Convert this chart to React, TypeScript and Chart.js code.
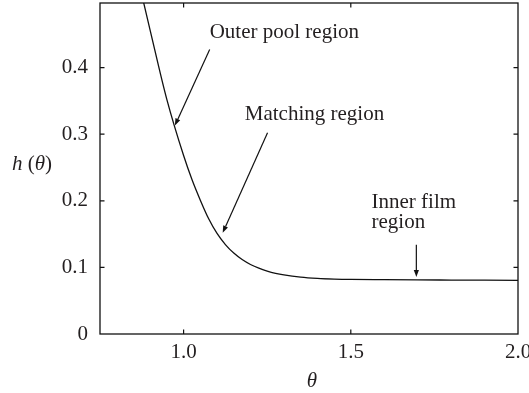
import React, { useEffect, useRef } from "react";
import { Chart, registerables } from "chart.js";

Chart.register(...registerables);

// Curve h(theta)
const thetaValues = [0.87, 0.9, 0.95, 1.0, 1.025, 1.05, 1.075, 1.1, 1.125, 1.15, 1.175, 1.2, 1.225, 1.25, 1.275, 1.3, 1.35, 1.4, 1.45, 1.5, 1.6, 1.7, 1.8, 1.9, 2.0];
const hValues = [0.52, 0.456, 0.352, 0.268, 0.232, 0.201, 0.173, 0.151, 0.1343, 0.1215, 0.1118, 0.1044, 0.0988, 0.0945, 0.0912, 0.0888, 0.0855, 0.0836, 0.0825, 0.0819, 0.0815, 0.0812, 0.081, 0.0808, 0.0806];

const xTickValues = [1.0, 1.5, 2.0];
const xTickLabels = ["1.0", "1.5", "2.0"];
const yTickValues = [0, 0.1, 0.2, 0.3, 0.4];
const yTickLabels = ["0", "0.1", "0.2", "0.3", "0.4"];

const xMin = 0.75;
const xMax = 2.0;
const yMin = 0;
const yMax = 0.497;

// Annotations in data coordinates
const annotationTexts = [["Outer pool region"], ["Matching region"], ["Inner film", "region"]];
const annotationTextPos = [[1.078, 0.4526], [1.183, 0.329], [1.562, 0.198]];
const arrowFrom = [[1.078, 0.427], [1.251, 0.302], [1.696, 0.134]];
const arrowTo = [[0.974, 0.313], [1.117, 0.152], [1.696, 0.0857]];

const SERIF = "'Liberation Serif', 'Times New Roman', Times, serif";
const FONT_SIZE = 21;
const TEXT_COLOR = "#231f20";

const framePlugin = {
  id: "frameAndAnnotations",
  afterDraw(chart: any) {
    const { ctx, chartArea } = chart;
    const xs = chart.scales.x;
    const ys = chart.scales.y;
    const { left, right, top, bottom } = chartArea;
    ctx.save();
    // frame
    ctx.strokeStyle = "#111";
    ctx.lineWidth = 1.3;
    ctx.strokeRect(left, top, right - left, bottom - top);
    // inward ticks
    const tl = 4.5;
    ctx.lineWidth = 1.2;
    ctx.beginPath();
    xTickValues.forEach((v) => {
      const px = xs.getPixelForValue(v);
      if (px <= left + 1 || px >= right - 1) return;
      ctx.moveTo(px, bottom);
      ctx.lineTo(px, bottom - tl);
      ctx.moveTo(px, top);
      ctx.lineTo(px, top + tl);
    });
    yTickValues.forEach((v) => {
      const py = ys.getPixelForValue(v);
      if (py >= bottom - 1 || py <= top + 1) return;
      ctx.moveTo(left, py);
      ctx.lineTo(left + tl, py);
      ctx.moveTo(right, py);
      ctx.lineTo(right - tl, py);
    });
    ctx.stroke();

    // annotations
    ctx.fillStyle = TEXT_COLOR;
    ctx.font = `${FONT_SIZE}px ${SERIF}`;
    ctx.textAlign = "left";
    ctx.textBaseline = "middle";
    annotationTexts.forEach((lines, i) => {
      const tx = xs.getPixelForValue(annotationTextPos[i][0]);
      const ty = ys.getPixelForValue(annotationTextPos[i][1]);
      lines.forEach((line, j) => {
        ctx.fillText(line, tx, ty + j * 20);
      });
    });
    ctx.strokeStyle = "#111";
    ctx.fillStyle = "#111";
    ctx.lineWidth = 1.2;
    arrowFrom.forEach((from, i) => {
      const x1 = xs.getPixelForValue(from[0]);
      const y1 = ys.getPixelForValue(from[1]);
      const x2 = xs.getPixelForValue(arrowTo[i][0]);
      const y2 = ys.getPixelForValue(arrowTo[i][1]);
      const ang = Math.atan2(y2 - y1, x2 - x1);
      const hl = 7;
      const hw = 2.6;
      const bx = x2 - hl * Math.cos(ang);
      const by = y2 - hl * Math.sin(ang);
      ctx.beginPath();
      ctx.moveTo(x1, y1);
      ctx.lineTo(bx, by);
      ctx.stroke();
      ctx.beginPath();
      ctx.moveTo(x2, y2);
      ctx.lineTo(bx - hw * Math.sin(ang), by + hw * Math.cos(ang));
      ctx.lineTo(bx + hw * Math.sin(ang), by - hw * Math.cos(ang));
      ctx.closePath();
      ctx.fill();
    });

    // axis titles with mixed italic
    ctx.fillStyle = TEXT_COLOR;
    const parts: [string, boolean][] = [["h", true], [" (", false], ["\u03b8", true], [")", false]];
    const fontFor = (it: boolean) => `${it ? "italic " : ""}${FONT_SIZE}px ${SERIF}`;
    let total = 0;
    parts.forEach(([t, it]) => {
      ctx.font = fontFor(it);
      total += ctx.measureText(t).width;
    });
    let cx = 32 - total / 2;
    const cy = 164;
    ctx.textAlign = "left";
    parts.forEach(([t, it]) => {
      ctx.font = fontFor(it);
      ctx.fillText(t, cx, cy);
      cx += ctx.measureText(t).width;
    });
    ctx.font = fontFor(true);
    ctx.textAlign = "center";
    ctx.fillText("\u03b8", (left + right) / 2 + 3, 381);
    ctx.restore();
  },
};

export default function App() {
  const canvasRef = useRef<HTMLCanvasElement | null>(null);

  useEffect(() => {
    document.body.style.margin = "0";
    const canvas = canvasRef.current;
    if (!canvas) return;
    const points = thetaValues.map((t, i) => ({ x: t, y: hValues[i] }));
    const chart = new Chart(canvas, {
      type: "line",
      data: {
        datasets: [
          {
            data: points,
            borderColor: "#111",
            borderWidth: 1.3,
            pointRadius: 0,
            fill: false,
            cubicInterpolationMode: "monotone",
          },
        ],
      },
      options: {
        animation: false,
        responsive: false,
        maintainAspectRatio: false,
        devicePixelRatio: 1,
        layout: { padding: { left: 0, right: 11, top: 3, bottom: 0 } },
        plugins: {
          legend: { display: false },
          tooltip: { enabled: false },
          title: { display: false },
        },
        scales: {
          x: {
            type: "linear",
            min: xMin,
            max: xMax,
            border: { display: false },
            grid: { display: false, drawTicks: false },
            afterBuildTicks: (s: any) => {
              s.ticks = xTickValues.map((v) => ({ value: v }));
            },
            afterFit: (s: any) => {
              s.height = 59;
              s.paddingLeft = 0;
              s.paddingRight = 0;
            },
            ticks: {
              padding: 6,
              maxRotation: 0,
              autoSkip: false,
              color: TEXT_COLOR,
              font: { family: SERIF, size: FONT_SIZE },
              callback: (v: any) => {
                const i = xTickValues.findIndex((t) => Math.abs(t - Number(v)) < 1e-9);
                return i >= 0 ? xTickLabels[i] : "";
              },
            },
          },
          y: {
            type: "linear",
            min: yMin,
            max: yMax,
            border: { display: false },
            grid: { display: false, drawTicks: false },
            afterBuildTicks: (s: any) => {
              s.ticks = yTickValues.map((v) => ({ value: v }));
            },
            afterFit: (s: any) => {
              s.width = 100;
              s.paddingTop = 0;
              s.paddingBottom = 0;
            },
            ticks: {
              padding: 12,
              autoSkip: false,
              color: TEXT_COLOR,
              font: { family: SERIF, size: FONT_SIZE },
              callback: (v: any) => {
                const i = yTickValues.findIndex((t) => Math.abs(t - Number(v)) < 1e-9);
                return i >= 0 ? yTickLabels[i] : "";
              },
            },
          },
        },
      },
      plugins: [framePlugin],
    } as any);
    return () => chart.destroy();
  }, []);

  return (
    <div style={{ position: "absolute", left: 0, top: 0, width: 529, height: 393, background: "#fff" }}>
      <canvas ref={canvasRef} width={529} height={393} style={{ width: 529, height: 393, display: "block" }} />
    </div>
  );
}
